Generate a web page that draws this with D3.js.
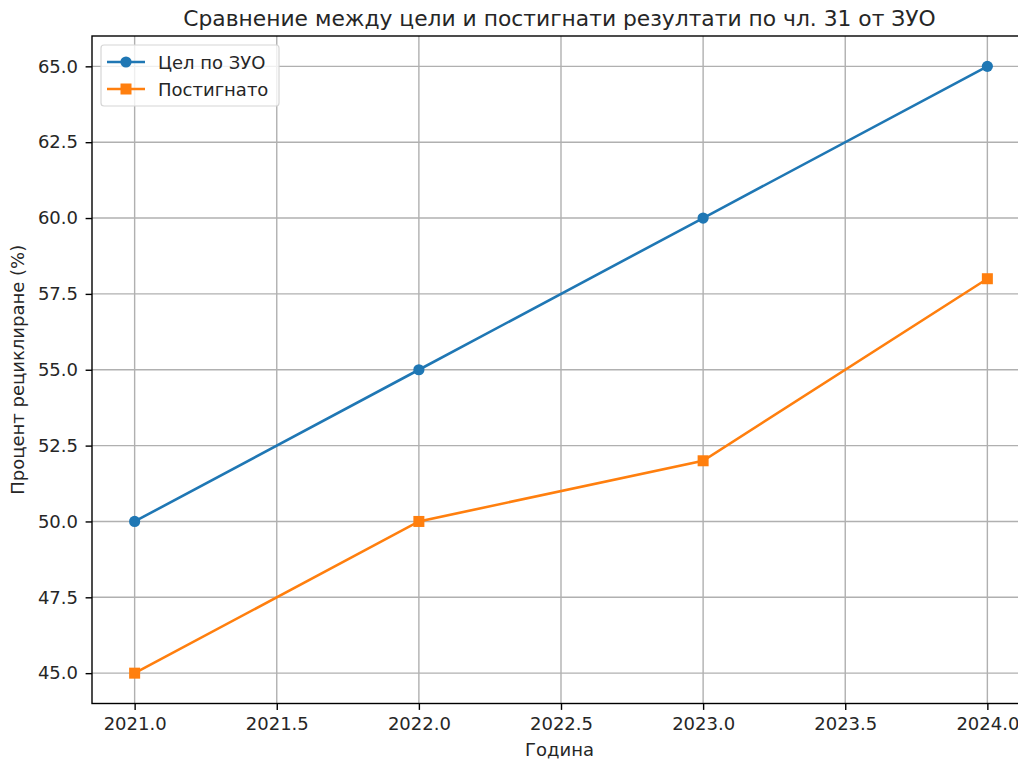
<!DOCTYPE html>
<html>
<head>
<meta charset="utf-8">
<script src="https://cdn.jsdelivr.net/npm/d3@7"></script>
<style>
  html, body { margin: 0; padding: 0; background: #fff; overflow: hidden; }
  svg { display: block; font-family: "DejaVu Sans", sans-serif; }
</style>
</head>
<body>
<svg id="chart" width="1018" height="761"></svg>
<script>
// Recycling targets under Art. 31 of the Waste Management Act vs. achieved results
const years = [2021, 2022, 2023, 2024];
const targetValues = [50, 55, 60, 65];
const achievedValues = [45, 50, 52, 58];
const xTicks = [2021.0, 2021.5, 2022.0, 2022.5, 2023.0, 2023.5, 2024.0];
const yTicks = [45.0, 47.5, 50.0, 52.5, 55.0, 57.5, 60.0, 62.5, 65.0];
const seriesNames = ["Цел по ЗУО", "Постигнато"];
const titleText = "Сравнение между цели и постигнати резултати по чл. 31 от ЗУО";
const xLabel = "Година";
const yLabel = "Процент рециклиране (%)";

const svg = d3.select("#chart");
const plot = { left: 92, top: 36, right: 1030, bottom: 703.5 };

const x = d3.scaleLinear().domain([2020.85, 2024.15]).range([plot.left, plot.right]);
const y = d3.scaleLinear().domain([44, 66]).range([plot.bottom, plot.top]);

const grid = "#b0b0b0";
const textColor = "#262626";
const tickFont = "18px";

// grid lines
svg.append("g").selectAll("line").data(xTicks).join("line")
  .attr("x1", d => x(d)).attr("x2", d => x(d))
  .attr("y1", plot.top).attr("y2", plot.bottom)
  .attr("stroke", grid).attr("stroke-width", 1.4);
svg.append("g").selectAll("line").data(yTicks).join("line")
  .attr("y1", d => y(d)).attr("y2", d => y(d))
  .attr("x1", plot.left).attr("x2", plot.right)
  .attr("stroke", grid).attr("stroke-width", 1.4);

// axes
const xAxis = d3.axisBottom(x).tickValues(xTicks).tickFormat(d3.format(".1f")).tickSize(6.4).tickPadding(7.3);
const yAxis = d3.axisLeft(y).tickValues(yTicks).tickFormat(d3.format(".1f")).tickSize(6.4).tickPadding(7.6);

const gx = svg.append("g").attr("transform", `translate(0,${plot.bottom})`).call(xAxis);
const gy = svg.append("g").attr("transform", `translate(${plot.left},0)`).call(yAxis);
[gx, gy].forEach(g => {
  g.select(".domain").remove();
  g.selectAll(".tick line").attr("stroke", "#000").attr("stroke-width", 1.4);
  g.selectAll(".tick text").attr("fill", textColor).style("font-size", tickFont).style("font-family", "DejaVu Sans");
});

// frame
svg.append("rect")
  .attr("x", plot.left).attr("y", plot.top)
  .attr("width", plot.right - plot.left).attr("height", plot.bottom - plot.top)
  .attr("fill", "none").attr("stroke", "#000").attr("stroke-width", 1.4);

// series
const line = d3.line().x(d => x(d[0])).y(d => y(d[1]));
const blue = "#1f77b4", orange = "#ff7f0e";
const targetPts = years.map((yr, i) => [yr, targetValues[i]]);
const achievedPts = years.map((yr, i) => [yr, achievedValues[i]]);

svg.append("path").datum(targetPts).attr("d", line)
  .attr("fill", "none").attr("stroke", blue).attr("stroke-width", 2.6);
svg.append("g").selectAll("circle").data(targetPts).join("circle")
  .attr("cx", d => x(d[0])).attr("cy", d => y(d[1])).attr("r", 5.6).attr("fill", blue);

svg.append("path").datum(achievedPts).attr("d", line)
  .attr("fill", "none").attr("stroke", orange).attr("stroke-width", 2.6);
svg.append("g").selectAll("rect").data(achievedPts).join("rect")
  .attr("x", d => x(d[0]) - 5.5).attr("y", d => y(d[1]) - 5.5)
  .attr("width", 11).attr("height", 11).attr("fill", orange);

// title and axis labels
svg.append("text").attr("x", 559.5).attr("y", 26).attr("text-anchor", "middle")
  .attr("fill", textColor).style("font-size", "21.8px").text(titleText);
svg.append("text").attr("x", 559.5).attr("y", 756).attr("text-anchor", "middle")
  .attr("fill", textColor).style("font-size", tickFont).text(xLabel);
svg.append("text").attr("transform", `translate(24,${(plot.top + plot.bottom) / 2}) rotate(-90)`)
  .attr("text-anchor", "middle").attr("fill", textColor).style("font-size", tickFont).text(yLabel);

// legend
const leg = svg.append("g");
leg.append("rect").attr("x", 101).attr("y", 45).attr("width", 178).attr("height", 61)
  .attr("rx", 3).attr("fill", "#fff").attr("fill-opacity", 0.8)
  .attr("stroke", "#d6d6d6").attr("stroke-width", 1.2);
const legItems = [
  { name: seriesNames[0], color: blue, shape: "circle", y: 62 },
  { name: seriesNames[1], color: orange, shape: "square", y: 89 }
];
legItems.forEach(it => {
  leg.append("line").attr("x1", 107).attr("x2", 145).attr("y1", it.y).attr("y2", it.y)
    .attr("stroke", it.color).attr("stroke-width", 2.6);
  if (it.shape === "circle") {
    leg.append("circle").attr("cx", 126).attr("cy", it.y).attr("r", 5.6).attr("fill", it.color);
  } else {
    leg.append("rect").attr("x", 120.5).attr("y", it.y - 5.5).attr("width", 11).attr("height", 11).attr("fill", it.color);
  }
  leg.append("text").attr("x", 158).attr("y", it.y + 6.5).attr("fill", textColor)
    .style("font-size", tickFont).text(it.name);
});
</script>
</body>
</html>
